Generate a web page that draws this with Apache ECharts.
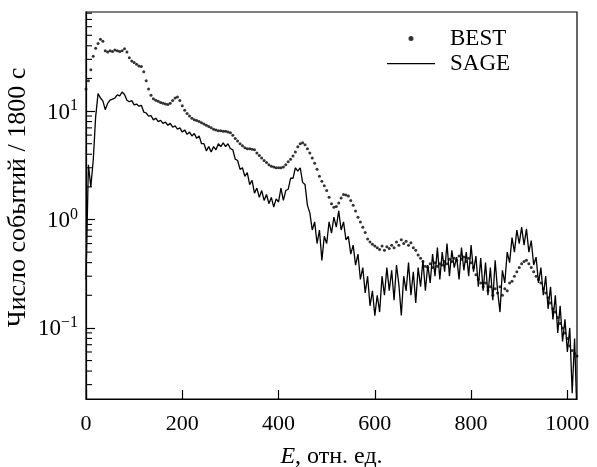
<!DOCTYPE html>
<html>
<head>
<meta charset="utf-8">
<script src="https://cdn.jsdelivr.net/npm/echarts@6/dist/echarts.min.js"></script>
<style>
  html, body { margin: 0; padding: 0; background: #fff; }
  #chart { width: 597px; height: 467px; }
</style>
</head>
<body>
<div id="chart"></div>
<script>
// energy channels, relative units
const energy = [
  0, 5, 10, 15, 20, 25, 30, 35, 40, 45,
  50, 55, 60, 65, 70, 75, 80, 85, 90, 95,
  100, 105, 110, 115, 120, 125, 130, 135, 140, 145,
  150, 155, 160, 165, 170, 175, 180, 185, 190, 195,
  200, 205, 210, 215, 220, 225, 230, 235, 240, 245,
  250, 255, 260, 265, 270, 275, 280, 285, 290, 295,
  300, 305, 310, 315, 320, 325, 330, 335, 340, 345,
  350, 355, 360, 365, 370, 375, 380, 385, 390, 395,
  400, 405, 410, 415, 420, 425, 430, 435, 440, 445,
  450, 455, 460, 465, 470, 475, 480, 485, 490, 495,
  500, 505, 510, 515, 520, 525, 530, 535, 540, 545,
  550, 555, 560, 565, 570, 575, 580, 585, 590, 595,
  600, 605, 610, 615, 620, 625, 630, 635, 640, 645,
  650, 655, 660, 665, 670, 675, 680, 685, 690, 695,
  700, 705, 710, 715, 720, 725, 730, 735, 740, 745,
  750, 755, 760, 765, 770, 775, 780, 785, 790, 795,
  800, 805, 810, 815, 820, 825, 830, 835, 840, 845,
  850, 855, 860, 865, 870, 875, 880, 885, 890, 895,
  900, 905, 910, 915, 920, 925, 930, 935, 940, 945,
  950, 955, 960, 965, 970, 975, 980, 985, 990, 995,
  1000, 1005, 1010, 1015, 1020
];

// SAGE spectrum (line)
const sageCounts = [
  0.28, 3.2, 2.0, 3.5, 8.8, 14.5, 13.2, 12.4, 10.3, 11.8,
  12.6, 12.9, 13.2, 14.1, 13.8, 15.0, 14.2, 12.6, 12.2, 12.5,
  11.4, 11.6, 11.1, 11.3, 9.8, 9.6, 9.0, 9.1, 8.3, 8.6,
  8.0, 8.2, 7.7, 7.9, 7.4, 7.7, 7.1, 7.3, 6.8, 7.0,
  6.4, 6.7, 6.1, 6.4, 5.9, 6.2, 5.6, 5.9, 5.0, 5.0,
  4.3, 4.7, 4.2, 4.7, 4.4, 5.0, 4.7, 5.1, 4.7, 5.0,
  4.5, 4.4, 3.6, 3.5, 2.9, 3.0, 2.5, 2.7, 2.1, 2.3,
  1.75, 1.95, 1.6, 1.85, 1.5, 1.7, 1.4, 1.6, 1.3, 1.55,
  1.45, 1.95, 1.5, 1.85, 1.9, 2.4, 2.4, 3.0, 2.8, 3.0,
  2.2, 2.1, 1.35, 1.15, 0.8, 0.95, 0.6, 0.8, 0.42, 0.7,
  0.6, 0.95, 0.75, 1.05, 0.85, 1.2, 0.8, 0.95, 0.65, 0.7,
  0.48, 0.58, 0.38, 0.48, 0.28, 0.36, 0.21, 0.3, 0.16, 0.22,
  0.13, 0.2, 0.14, 0.3, 0.2, 0.36, 0.22, 0.34, 0.18, 0.38,
  0.25, 0.13, 0.3, 0.22, 0.4, 0.2, 0.33, 0.17, 0.36, 0.24,
  0.42, 0.22, 0.38, 0.26, 0.48, 0.3, 0.55, 0.28, 0.5, 0.33,
  0.6, 0.3, 0.52, 0.36, 0.45, 0.28, 0.55, 0.34, 0.5, 0.3,
  0.58, 0.33, 0.46, 0.24, 0.44, 0.22, 0.4, 0.2, 0.36, 0.18,
  0.42, 0.22, 0.14, 0.34, 0.26, 0.5, 0.4, 0.68, 0.5, 0.8,
  0.6, 0.85, 0.58, 0.82, 0.5, 0.64, 0.38, 0.45, 0.26, 0.36,
  0.2, 0.3, 0.15, 0.24, 0.12, 0.2, 0.09, 0.16, 0.075, 0.12,
  0.06, 0.1, 0.025, 0.08, 0.015
];

// BEST spectrum (dots)
const bestCounts = [
  16, 19, 24, 32, 38, 42, 46, 44, 36, 35,
  36, 35.5, 36.5, 36, 35.5, 36, 37.5, 35, 31, 29,
  28, 27, 26, 25.8, 23, 19, 16, 14, 13, 12.6,
  12.3, 12.0, 11.8, 11.6, 11.5, 11.8, 12.5, 13.2, 13.5, 12.5,
  11.2, 10.2, 9.5, 9.0, 8.6, 8.3, 8.2, 8.0, 7.8, 7.6,
  7.4, 7.2, 7.0, 6.8, 6.7, 6.6, 6.6, 6.5, 6.5, 6.4,
  6.3, 6.0, 5.6, 5.3, 5.0, 4.8, 4.6, 4.5, 4.5, 4.45,
  4.4, 4.1, 3.9, 3.7, 3.5, 3.35, 3.2, 3.1, 3.05, 3.0,
  3.0, 3.0, 3.05, 3.2, 3.4, 3.6, 3.85, 4.2, 4.7, 5.0,
  5.1, 4.9, 4.5, 4.1, 3.7, 3.3, 2.9, 2.5, 2.25, 2.05,
  1.85, 1.6, 1.4, 1.3, 1.32, 1.42, 1.58, 1.7, 1.68, 1.65,
  1.5, 1.35, 1.2, 1.05, 0.95, 0.85, 0.76, 0.66, 0.62, 0.59,
  0.57, 0.55, 0.53, 0.57, 0.52, 0.56, 0.54, 0.58, 0.55, 0.62,
  0.58, 0.65, 0.6, 0.63, 0.58, 0.61, 0.55, 0.52, 0.47, 0.44,
  0.41, 0.37, 0.36, 0.39, 0.36, 0.4, 0.37, 0.39, 0.38, 0.41,
  0.39, 0.43, 0.41, 0.44, 0.42, 0.46, 0.43, 0.45, 0.41, 0.44,
  0.4, 0.36, 0.31, 0.28, 0.26, 0.24, 0.26, 0.22, 0.24, 0.2,
  0.23, 0.21, 0.24, 0.2, 0.23, 0.22, 0.26, 0.27, 0.3, 0.33,
  0.36, 0.39, 0.41, 0.42, 0.39, 0.36, 0.33, 0.3, 0.28, 0.26,
  0.23, 0.21, 0.19, 0.17, 0.15, 0.14, 0.125, 0.11, 0.1, 0.09,
  0.08, 0.068, 0.062, 0.058, 0.055
];

// minor ticks of the log axis (2..9 of each decade)
const minorTickValues = [
  0.03, 0.04, 0.05, 0.06, 0.07, 0.08, 0.09,
  0.2, 0.3, 0.4, 0.5, 0.6, 0.7, 0.8, 0.9,
  2, 3, 4, 5, 6, 7, 8, 9,
  20, 30, 40, 50, 60, 70, 80
];

const seriesNames = ["BEST", "SAGE"];
const xTitle = "E";
const xTitleRest = ", отн. ед.";
const yTitle = "Число событий / 1800 с";

const FONT = "'Liberation Serif', 'Times New Roman', serif";

// thin bar inside a 48x5 box, so the line icon stays thin
const lineIcon = "path://M0,0L0.01,0L0.01,0.01Z M0,1.9L48,1.9L48,3.2L0,3.2Z M0,5L0.01,5L0.01,4.99Z";

function renderChart() {
  const sageData = energy.map((e, i) => [e, sageCounts[i]]);
  const bestData = energy.map((e, i) => [e, bestCounts[i]]);

  const options = {
    animation: false,
    backgroundColor: "#fff",
    textStyle: { fontFamily: FONT, color: "#000" },
    grid: {
      left: 86,
      right: 20,
      top: 12,
      bottom: 68,
      containLabel: false,
      outerBoundsMode: "none",
      show: true,
      borderColor: "#000",
      borderWidth: 1.2,
      backgroundColor: "transparent",
    },
    legend: {
      orient: "vertical",
      left: 382,
      top: 22,
      itemWidth: 48,
      itemHeight: 5,
      itemGap: 2,
      selectedMode: false,
      textStyle: {
        fontFamily: FONT,
        fontSize: 23,
        lineHeight: 22,
        color: "#000",
        padding: [0, 0, 0, 10],
      },
      data: [
        { name: seriesNames[0], icon: "circle" },
        { name: seriesNames[1], icon: lineIcon },
      ],
    },
    xAxis: {
      type: "value",
      min: 0,
      max: 1020,
      interval: 200,
      name: "{i|" + xTitle + "}{n|" + xTitleRest + "}",
      nameLocation: "middle",
      nameGap: 46,
      nameTextStyle: {
        rich: {
          i: { fontFamily: FONT, fontSize: 24, fontStyle: "italic", color: "#000" },
          n: { fontFamily: FONT, fontSize: 24, color: "#000" },
        },
      },
      axisLine: { show: true, lineStyle: { color: "#000", width: 1.2 } },
      axisTick: { show: true, inside: true, length: 9, lineStyle: { color: "#000", width: 1.2 } },
      axisLabel: {
        showMaxLabel: false,
        margin: 14,
        fontFamily: FONT,
        fontSize: 22,
        color: "#000",
        formatter: (v) => String(v),
      },
      splitLine: { show: false },
    },
    yAxis: {
      type: "log",
      logBase: 10,
      min: 0.0221,
      max: 82,
      name: yTitle,
      nameLocation: "middle",
      nameGap: 55,
      nameMoveOverlap: false,
      nameTextStyle: { fontFamily: FONT, fontSize: 26, color: "#000", padding: [0, 0, 0, 16] },
      axisLine: { show: true, lineStyle: { color: "#000", width: 1.2 } },
      axisTick: { show: true, inside: true, length: 9, lineStyle: { color: "#000", width: 1.2 } },
      axisLabel: {
        showMinLabel: false,
        showMaxLabel: false,
        margin: 8,
        formatter: (value) => {
          const p = Math.round(Math.log10(value));
          const exp = p < 0 ? "\u2212" + -p : String(p);
          return "{b|10}{s|" + exp + "}";
        },
        rich: {
          b: { fontFamily: FONT, fontSize: 23, color: "#000", lineHeight: 26, verticalAlign: "bottom" },
          s: { fontFamily: FONT, fontSize: 16, color: "#000", lineHeight: 26, verticalAlign: "top" },
        },
      },
      splitLine: { show: false },
    },
    series: [
      {
        name: seriesNames[1],
        type: "line",
        data: sageData,
        symbol: "none",
        showSymbol: false,
        lineStyle: { color: "#000", width: 1.3 },
        itemStyle: { color: "#000" },
        clip: true,
        z: 2,
      },
      {
        name: seriesNames[0],
        type: "scatter",
        data: bestData,
        symbol: "circle",
        symbolSize: 3,
        itemStyle: { color: "#000" },
        clip: true,
        z: 3,
      },
      {
        name: "minorTicks",
        type: "custom",
        data: minorTickValues.map((v) => [0, v]),
        clip: false,
        silent: true,
        z: 4,
        renderItem: (params, api) => {
          const p = api.coord([0, api.value(1)]);
          return {
            type: "line",
            shape: { x1: p[0], y1: p[1], x2: p[0] + 6, y2: p[1] },
            style: { stroke: "#000", lineWidth: 1.1 },
          };
        },
      },
    ],
  };

  const chart = echarts.init(document.querySelector("#chart"));
  chart.setOption(options);
}

document.addEventListener("DOMContentLoaded", renderChart);
</script>
</body>
</html>
